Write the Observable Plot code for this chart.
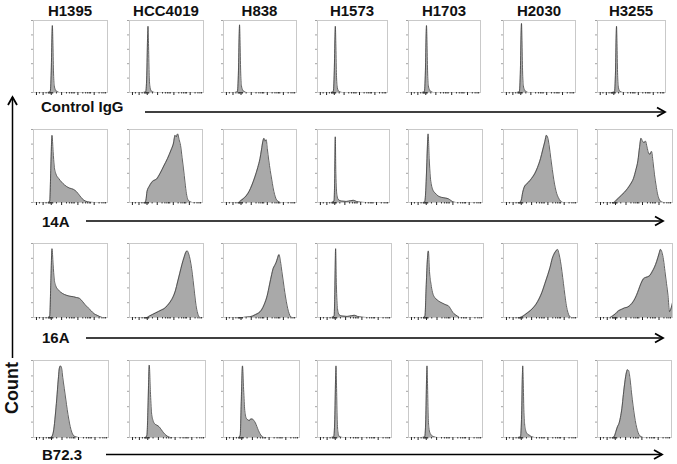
<!DOCTYPE html>
<html>
<head>
<meta charset="utf-8">
<script src="https://cdn.jsdelivr.net/npm/d3@7"></script>
<script src="https://cdn.jsdelivr.net/npm/@observablehq/plot@0.6"></script>
<style>
  html, body { margin: 0; padding: 0; background: #fff; }
  #fig { position: relative; width: 677px; height: 464px; overflow: hidden; background: #fff; }
  #fig svg.overlay { position: absolute; left: 0; top: 0; }
  #fig text { font-family: "Liberation Sans", Arial, sans-serif; font-weight: bold; fill: #111; }
</style>
</head>
<body>
<div id="fig"></div>
<script>
// ---------------- data ----------------
const cellLines = ["H1395", "HCC4019", "H838", "H1573", "H1703", "H2030", "H3255"];
const antibodies = ["Control IgG", "14A", "16A", "B72.3"];
const yLabel = "Count";

// axis ticks (fluorescence axis, panel units 0..100)
const majorTicks = [4, 13, 24, 38, 60, 82];
const minorTicks = [8, 17, 20, 21, 22, 23, 25, 26, 31, 44.6, 48.5, 51.2, 53.4, 55.1, 66.6, 70.5, 73.2, 75.4, 77.1, 88.6, 92.5, 95.2, 97.4];
const countTicks = [0, 20, 40, 60, 80, 100];

// histograms: [fluorescence position, % of max count]
const controlIgG = [
  [[19,0],[22.5,1],[24,30],[25,80],[25.5,93],[26.2,70],[27,30],[28,10],[29.5,4],[31.5,1.5],[35,0]],
  [[18.5,0],[22,1],[23.5,30],[24.5,80],[25,92],[25.7,68],[26.5,28],[27.5,9],[29,3],[31,1],[34,0]],
  [[15.5,0],[19,1],[20.5,30],[21.5,80],[22,94],[22.7,70],[23.5,30],[24.5,10],[26,4],[28,1.5],[31,0]],
  [[19,0],[22.5,1],[24,30],[25,78],[25.5,92],[26.2,68],[27,28],[28,9],[29.5,3],[31.5,1],[35,0]],
  [[18.5,0],[22,1],[23.5,30],[24.5,80],[25,93],[25.7,70],[26.5,30],[27.5,10],[29,4],[31,1.5],[34,0]],
  [[18.5,0],[22,1],[23.5,32],[24.5,84],[25,96],[25.7,72],[26.5,30],[27.5,10],[29,4],[31,1.5],[34,0]],
  [[21.5,0],[25,1],[26.5,30],[27.5,80],[28,92],[28.7,68],[29.5,28],[30.5,9],[32,3],[34,1],[37,0]]
];
const ab14A = [
  [[20,0],[22,2],[23.5,50],[25,92],[26.5,70],[28,50],[30,40],[34,33],[38,28],[42,24],[48,20],[54,18],[58,15],[62,10],[66,5],[70,2],[76,0.5],[82,0]],
  [[21,0],[22.5,3],[24,15],[27,22],[30,27],[33,30],[37,32],[42,40],[47,50],[52,60],[57,72],[60,80],[62.5,92],[64,90],[66,94],[68,86],[70,78],[72,62],[74,46],[76,28],[78,12],[80,4],[83,1],[86,0]],
  [[21,0],[23,2],[27,5],[31,9],[35,15],[39,24],[43,35],[47,48],[50,60],[52,72],[54,84],[55.5,88],[57,84],[58.5,86],[60,74],[62,58],[64,44],[66,32],[68,20],[70,11],[72,5],[75,1.5],[78,0]],
  [[19.5,0],[23,2],[24,40],[24.7,90],[25.5,40],[27,10],[29,4],[33,2],[40,1.5],[46,2.5],[50,3],[54,1.5],[60,0.5],[66,0]],
  [[20,0],[22,1],[23.5,20],[25,60],[26.5,94],[28,60],[29.5,35],[31,24],[33,17],[36,13],[40,9],[45,7],[50,6],[54,5],[57,3],[60,1],[64,0]],
  [[22,0],[24,3],[26,14],[28,21],[31,25],[34,28],[38,33],[42,39],[46,48],[50,60],[53,72],[56,84],[58,92],[60,88],[62,76],[64,60],[66,45],[68,31],[70,20],[72,12],[74,7],[77,2],[80,0]],
  [[22,0],[24,2],[28,6],[32,10],[36,14],[40,19],[44,25],[48,33],[51,44],[54,58],[56,75],[58,88],[60,84],[62,82],[64,84],[66,76],[68,68],[70,66],[72,70],[74,56],[76,38],[78,24],[80,12],[82,5],[85,1],[88,0]]
];
const ab16A = [
  [[20,0],[22,2],[23.5,50],[25,93],[26.5,72],[28,52],[30,43],[33,38],[37,34],[42,31],[48,29],[54,28],[58,27],[62,26],[66,22],[70,17],[74,13],[78,9],[82,5],[86,3],[90,1],[93,0]],
  [[24,0],[27,2],[31,4],[35,6],[39,8],[43,10],[47,12],[51,16],[55,21],[59,28],[62,36],[65,48],[68,60],[71,72],[74,82],[76,88],[78,90],[80,86],[82,78],[84,66],[86,50],[88,32],[90,16],[92,6],[94,1],[95,0]],
  [[26,0],[30,0.5],[36,1],[40,2],[44,4],[48,6],[52,10],[56,18],[60,30],[63,44],[66,58],[68,66],[70,70],[72,74],[74,80],[76,85],[78,76],[80,62],[82,48],[84,34],[86,22],[88,12],[90,5],[92,1],[94,0]],
  [[19,0],[22.5,2],[23.5,40],[24.5,93],[25.5,45],[27,12],[29,4],[33,2],[40,1.5],[46,2.5],[50,3],[54,1.5],[60,0.5],[66,0]],
  [[20,0],[22,2],[23.5,40],[25,75],[26.5,90],[28,62],[30,45],[32,34],[35,27],[38,24],[42,21],[46,19],[50,17],[53,16],[56,12],[59,7],[62,4],[65,2],[68,0]],
  [[22,0],[25,1],[28,3],[32,6],[36,9],[40,13],[44,18],[48,25],[52,34],[56,46],[60,58],[63,68],[66,80],[69,87],[71,90],[73,92],[75,86],[77,76],[79,62],[81,46],[83,30],[85,16],[87,7],[89,2],[91,0]],
  [[17,0],[20,2],[24,5],[28,9],[32,11],[36,13],[40,14],[44,17],[48,22],[52,30],[55,38],[58,46],[61,52],[64,54],[67,55],[70,57],[73,62],[76,68],[79,76],[82,86],[84,92],[86,88],[88,78],[90,62],[92,46],[94,30],[96,8],[98,12],[100,20]]
];
const abB723 = [
  [[23,0],[25,2],[27,10],[29,28],[31,50],[33,75],[34.5,90],[36,93],[37.5,90],[39,78],[41,64],[43,50],[45,36],[47,24],[49,14],[51,7],[53,3],[56,1],[60,0]],
  [[21,0],[23,3],[24.5,45],[26,94],[27.5,60],[29,32],[31,22],[33,18],[36,16],[39,14],[42,10],[45,6],[48,3],[51,1],[54,0]],
  [[20,0],[22,3],[23.5,50],[25,93],[26.5,62],[28,35],[30,25],[32,23],[34,22],[36,24],[38,24],[40,22],[42,19],[44,14],[46,9],[48,5],[50,2],[53,0]],
  [[18.5,0],[22,1],[23.5,30],[24.5,80],[25,93],[25.7,68],[26.5,28],[27.5,8],[29,2],[31,0.5],[34,0]],
  [[18.5,0],[22,1],[23.5,30],[24.5,80],[25,93],[25.7,70],[26.5,32],[27.5,13],[29,6],[31,3],[34,1],[38,0]],
  [[19.5,0],[23,1],[24.5,30],[25.5,80],[26,93],[26.7,72],[27.5,36],[28.5,18],[30,9],[32,5],[35,3],[38,1],[42,0]],
  [[21,0],[23,2],[25,8],[27,14],[29,18],[31,26],[33,38],[35,56],[37,72],[39,84],[40.5,88],[42,87],[44,76],[46,58],[48,42],[50,28],[52,17],[54,9],[56,4],[59,1],[62,0]]
];
const rows = [controlIgG, ab14A, ab16A, abB723];

// ---------------- layout ----------------
const colX = [33, 129, 223, 317, 408, 503, 597];
const rowY = [20, 129, 243, 360];
const rowH = [72, 73, 74, 77];
const panelW = [
  [74, 74, 73, 70, 72, 72, 68],
  [74, 73, 73, 72, 74, 74, 75],
  [74, 74, 73, 74, 75, 74, 75],
  [75, 76, 76, 74, 74, 74, 74]
];
const mL = 4, mR = 1, mT = 1, mB = 5;
const labelPos = [
  {x: 41, y: 112, ax0: 145, ax1: 665, ay: 112},
  {x: 42, y: 226.5, ax0: 86, ax1: 663, ay: 221},
  {x: 42, y: 343, ax0: 86, ax1: 663, ay: 338},
  {x: 42, y: 460, ax0: 106, ax1: 662, ay: 454.5}
];

const fig = document.getElementById("fig");

rows.forEach((hists, r) => {
  hists.forEach((pts, c) => {
    const w = panelW[r][c], h = rowH[r];
    const chart = Plot.plot({
      width: w + mL + mR,
      height: h + mT + mB,
      marginLeft: mL, marginRight: mR, marginTop: mT, marginBottom: mB,
      x: {domain: [0, 100]},
      y: {domain: [0, 100]},
      style: {background: "transparent", overflow: "visible"},
      marks: [
        Plot.areaY(pts, {x: d => d[0], y: d => d[1], fill: "#a9a9a9", curve: "monotone-x"}),
        Plot.lineY(pts, {x: d => d[0], y: d => d[1], stroke: "#3c3c3c", strokeWidth: 0.8, curve: "monotone-x"}),
        Plot.frame({stroke: "#c9c9c9"}),
        Plot.axisX(majorTicks, {tickSize: 3, tickFormat: () => "", label: null, stroke: "#222", strokeWidth: 1}),
        Plot.axisX(minorTicks, {tickSize: 1.5, tickFormat: () => "", label: null, stroke: "#333", strokeWidth: 1}),
        Plot.axisY(countTicks, {tickSize: 2, tickFormat: () => "", label: null, stroke: "#8a8a8a", strokeWidth: 0.8})
      ]
    });
    chart.style.position = "absolute";
    chart.style.left = (colX[c] - mL) + "px";
    chart.style.top = (rowY[r] - mT) + "px";
    fig.appendChild(chart);
  });
});

// ---------------- overlay: headers, labels, arrows ----------------
const NS = "http://www.w3.org/2000/svg";
const ov = document.createElementNS(NS, "svg");
ov.setAttribute("class", "overlay");
ov.setAttribute("width", 677);
ov.setAttribute("height", 464);
function el(tag, attrs, text) {
  const e = document.createElementNS(NS, tag);
  for (const k in attrs) e.setAttribute(k, attrs[k]);
  if (text != null) e.textContent = text;
  ov.appendChild(e);
  return e;
}
cellLines.forEach((name, c) => {
  el("text", {x: colX[c] + panelW[0][c] / 2, y: 16, "text-anchor": "middle", "font-size": 15}, name);
});
antibodies.forEach((name, r) => {
  const p = labelPos[r];
  el("text", {x: p.x, y: p.y, "font-size": 15}, name);
  el("line", {x1: p.ax0, y1: p.ay, x2: p.ax1, y2: p.ay, stroke: "#000", "stroke-width": 1.5});
  el("polyline", {points: `${p.ax1 - 8},${p.ay - 4.5} ${p.ax1},${p.ay} ${p.ax1 - 8},${p.ay + 4.5}`,
    fill: "none", stroke: "#000", "stroke-width": 1.8, "stroke-linejoin": "miter"});
});
// vertical Count arrow
el("line", {x1: 12.5, y1: 358, x2: 12.5, y2: 97, stroke: "#000", "stroke-width": 1.5});
el("polyline", {points: "8,105 12.5,97 17,105", fill: "none", stroke: "#000", "stroke-width": 1.8});
el("text", {transform: "translate(18,388) rotate(-90)", "text-anchor": "middle", "font-size": 18}, yLabel);
fig.appendChild(ov);
</script>
</body>
</html>
